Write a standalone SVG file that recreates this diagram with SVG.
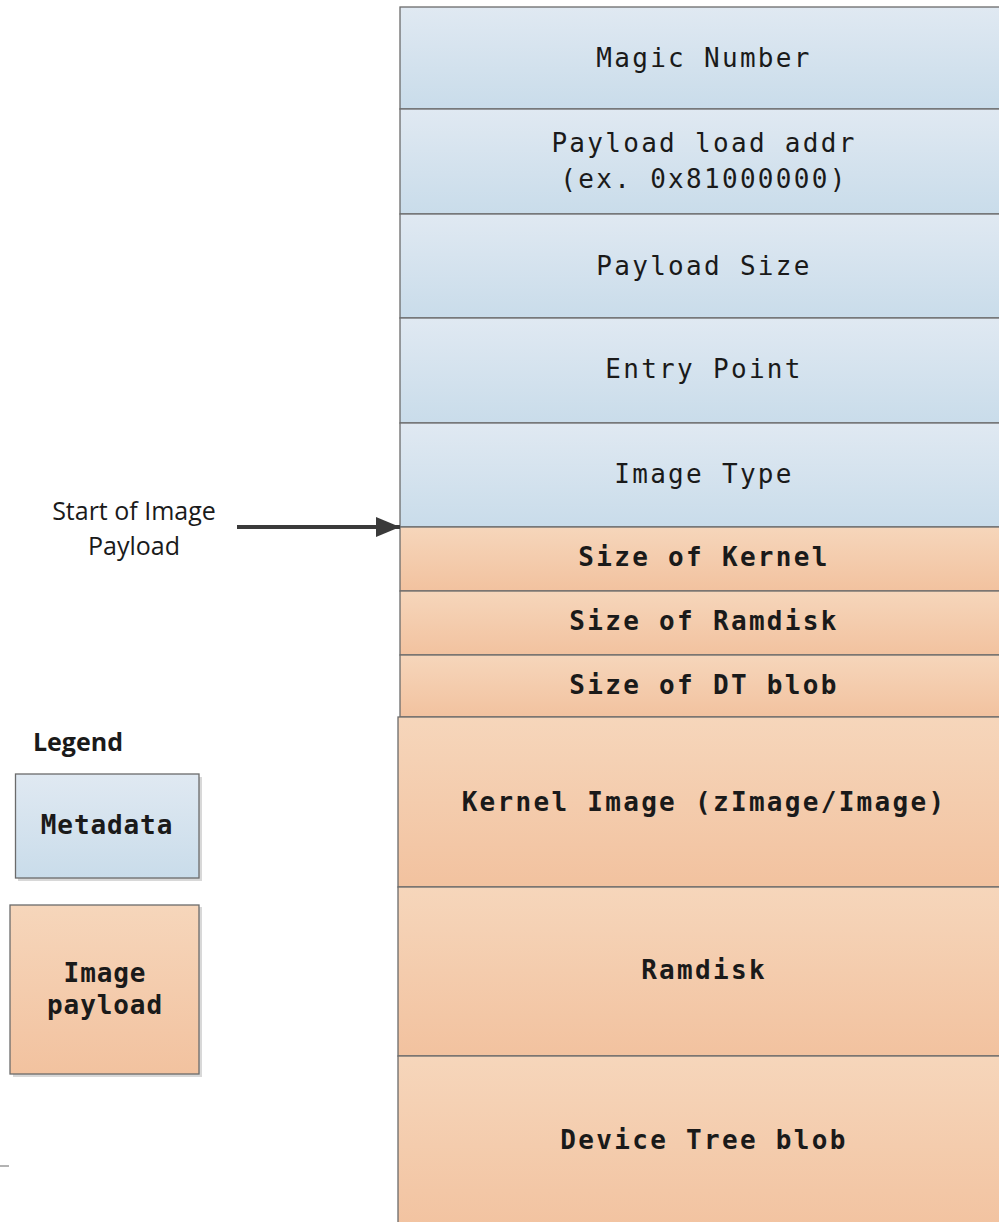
<svg xmlns="http://www.w3.org/2000/svg" width="999" height="1222" viewBox="0 0 999 1222">
<defs>
<linearGradient id="gb" x1="0" y1="0" x2="0" y2="1"><stop offset="0" stop-color="#e0e9f2"/><stop offset="1" stop-color="#c9dcea"/></linearGradient>
<linearGradient id="go" x1="0" y1="0" x2="0" y2="1"><stop offset="0" stop-color="#f6d6bb"/><stop offset="1" stop-color="#f2c29f"/></linearGradient>
<marker id="ah" markerWidth="24" markerHeight="20" refX="24" refY="10" orient="auto" markerUnits="userSpaceOnUse" viewBox="0 0 24 20"><path d="M0,0 L24,10 L0,20 z" fill="#3a3a3a"/></marker>
</defs>
<style>
.b{fill:url(#gb);stroke:#6b6b6b;stroke-width:1.3}
.o{fill:url(#go);stroke:#6b6b6b;stroke-width:1.3}
.t{font-family:"DejaVu Sans Mono","Liberation Mono",monospace;font-size:26px;letter-spacing:2.3px;fill:#1a1a1a;text-anchor:middle;dominant-baseline:central}
.tb{font-weight:bold}
.s{font-family:"Open Sans","Liberation Sans",sans-serif;font-size:25px;fill:#1a1a1a;text-anchor:middle;dominant-baseline:central}
.sh{fill:#d8d8d8}
</style>
<g id="magic"><rect class="b" x="400" y="7" width="610" height="102"/><text class="t" x="704" y="58">Magic Number</text></g>
<g id="loadaddr"><rect class="b" x="400" y="109" width="610" height="105"/><text class="t" x="704" y="143">Payload load addr</text><text class="t" x="704" y="179">(ex. 0x81000000)</text></g>
<g id="psize"><rect class="b" x="400" y="214" width="610" height="104"/><text class="t" x="704" y="266">Payload Size</text></g>
<g id="entry"><rect class="b" x="400" y="318" width="610" height="105"/><text class="t" x="704" y="369">Entry Point</text></g>
<g id="itype"><rect class="b" x="400" y="423" width="610" height="104"/><text class="t" x="704" y="474">Image Type</text></g>
<g id="skernel"><rect class="o" x="400" y="527" width="610" height="64"/><text class="t tb" x="704" y="557">Size of Kernel</text></g>
<g id="sramdisk"><rect class="o" x="400" y="591" width="610" height="64"/><text class="t tb" x="704" y="621">Size of Ramdisk</text></g>
<g id="sdt"><rect class="o" x="400" y="655" width="610" height="62"/><text class="t tb" x="704" y="685">Size of DT blob</text></g>
<g id="kernel"><rect class="o" x="398" y="717" width="612" height="170"/><text class="t tb" x="704" y="802">Kernel Image (zImage/Image)</text></g>
<g id="ramdisk"><rect class="o" x="398" y="887" width="612" height="169"/><text class="t tb" x="704" y="970">Ramdisk</text></g>
<g id="dtb"><rect class="o" x="398" y="1056" width="612" height="180"/><text class="t tb" x="704" y="1140">Device Tree blob</text></g>
<g id="startlabel"><text class="s" x="134" y="510">Start of Image</text><text class="s" x="134" y="545">Payload</text></g>
<g id="connectors"><line x1="237" y1="527" x2="400" y2="527" stroke="#3a3a3a" stroke-width="4" marker-end="url(#ah)"/></g>
<g id="legend">
<text x="78" y="741" style="font-family:'Open Sans','Liberation Sans',sans-serif;font-size:25px;font-weight:bold;fill:#1a1a1a;text-anchor:middle;dominant-baseline:central">Legend</text>
<rect class="sh" x="18" y="777" width="184" height="104"/>
<rect class="b" x="15.5" y="774" width="183.5" height="104"/>
<text class="t tb" x="107" y="825" style="letter-spacing:0.9px">Metadata</text>
<rect class="sh" x="13" y="907" width="189" height="170"/>
<rect class="o" x="10" y="905" width="189" height="169"/>
<text class="t tb" x="105" y="973" style="letter-spacing:0.9px">Image</text>
<text class="t tb" x="105" y="1005" style="letter-spacing:0.9px">payload</text>
</g>
<line x1="0" y1="1166" x2="9" y2="1166" stroke="#8a8a8a" stroke-width="1.3"/>
</svg>
